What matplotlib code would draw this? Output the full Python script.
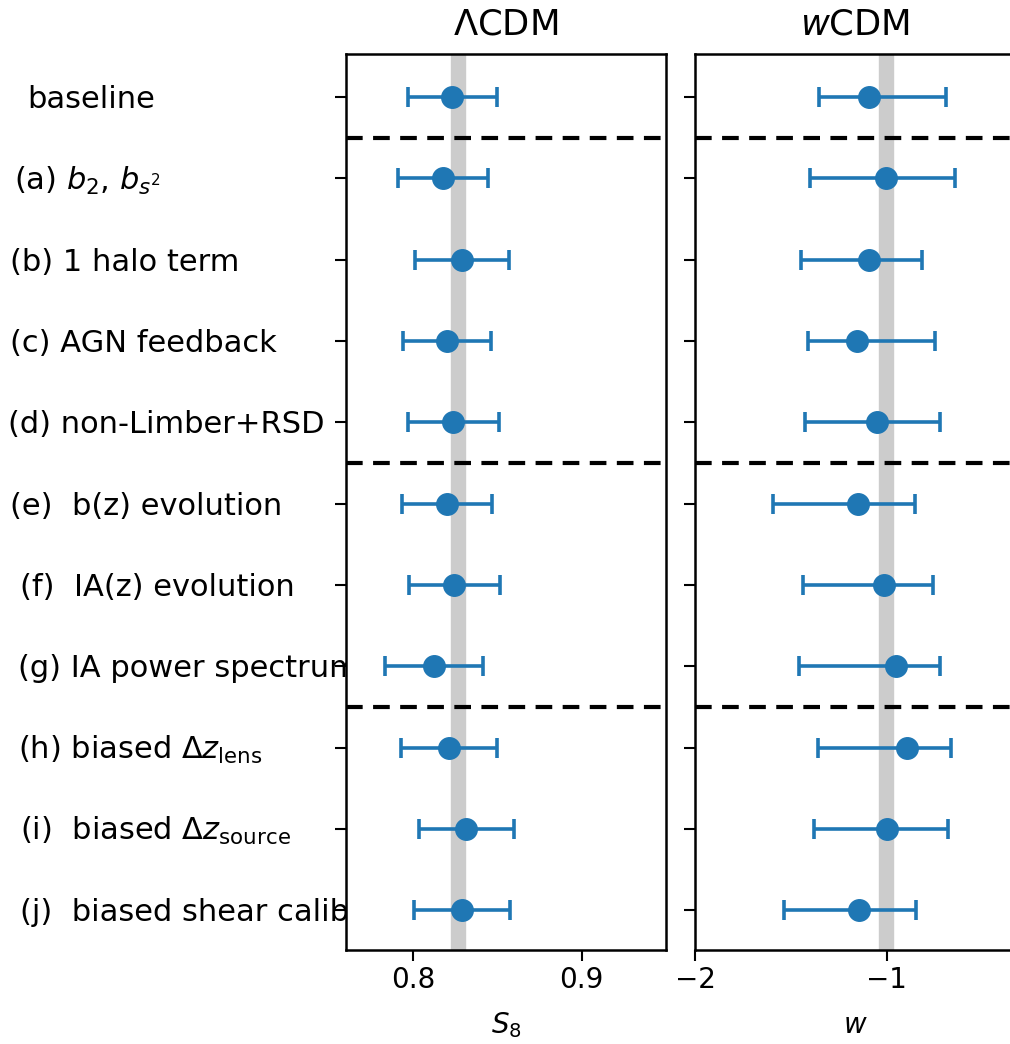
import numpy as np
import matplotlib.pyplot as plt
import matplotlib.transforms as mtransforms

# row labels (top to bottom)
labels = ["baseline",
          r"(a) $b_2$, $b_{s^2}$",
          "(b) 1 halo term",
          "(c) AGN feedback",
          "(d) non-Limber+RSD",
          "(e)  b(z) evolution",
          "(f)  IA(z) evolution",
          "(g) IA power spectrum",
          r"(h) biased $\Delta z_{\rm lens}$",
          r"(i)  biased $\Delta z_{\rm source}$",
          "(j)  biased shear calibration"]
label_x = [27, 14, 10, 10, 8, 10, 20, 18, 18, 20, 20]  # left edge in pixels

# LCDM: S8 constraints
s8 = [0.8232, 0.8176, 0.8289, 0.8200, 0.8236, 0.8198, 0.8242, 0.8123, 0.8212, 0.8313, 0.8289]
s8_err = [0.0264, 0.0267, 0.0280, 0.0260, 0.0270, 0.0267, 0.0270, 0.0290, 0.0285, 0.0282, 0.0285]
s8_fid = 0.8265
s8_band = 0.0042

# wCDM: w constraints (asymmetric)
w = [-1.092, -1.004, -1.092, -1.155, -1.051, -1.150, -1.014, -0.951, -0.894, -0.998, -1.145]
w_lo = [-1.353, -1.400, -1.447, -1.411, -1.426, -1.593, -1.437, -1.457, -1.358, -1.379, -1.536]
w_hi = [-0.691, -0.644, -0.816, -0.748, -0.722, -0.852, -0.758, -0.722, -0.665, -0.680, -0.847]
w_fid = -1.003
w_band = 0.036

sep_rows = [0.5, 4.5, 7.5]

W, H = 1010, 1044
fig = plt.figure(figsize=(W / 100, H / 100), dpi=100)
ax1 = fig.add_axes([346 / W, (H - 950) / H, 320 / W, 896 / H])
ax2 = fig.add_axes([695 / W, (H - 950) / H, 320 / W, 896 / H])

y = np.arange(len(labels))
blue = '#1f77b4'

ax1.axvspan(s8_fid - s8_band, s8_fid + s8_band, color='0.8', zorder=0)
ax1.errorbar(s8, y, xerr=s8_err, fmt='o', color=blue, ms=15.5, elinewidth=2.6,
             capsize=7, capthick=2.6, zorder=3)

w = np.array(w)
xerr = [w - np.array(w_lo), np.array(w_hi) - w]
ax2.axvspan(w_fid - w_band, w_fid + w_band, color='0.8', zorder=0)
ax2.errorbar(w, y, xerr=xerr, fmt='o', color=blue, ms=15.5, elinewidth=2.6,
             capsize=7, capthick=2.6, zorder=3)

for ax in (ax1, ax2):
    for r in sep_rows:
        ax.axhline(r, color='k', ls='--', lw=3, dashes=(4, 2.5), zorder=2)
    ax.set_ylim(10.49, -0.53)
    ax.set_yticks(y)
    ax.set_yticklabels([])
    ax.tick_params(axis='both', labelsize=20, length=8, width=1.5)
    for sp in ax.spines.values():
        sp.set_linewidth(1.8)

ax1.set_xlim(0.760, 0.950)
ax1.set_xticks([0.8, 0.9])
ax2.set_xlim(-2, -0.332)
ax2.set_xticks([-2, -1])

ax1.set_xlabel(r"$S_8$", fontsize=20, labelpad=12)
ax2.set_xlabel(r"$w$", fontsize=20, labelpad=12)
ax1.set_title(r"$\Lambda$CDM", fontsize=25.5, pad=14)
ax2.set_title(r"$w$CDM", fontsize=25.5, pad=14)

# row labels: drawn below the axes so the panel covers any overflow
trans = mtransforms.blended_transform_factory(fig.transFigure, ax1.transData)
for yi, (lab, lx) in enumerate(zip(labels, label_x)):
    fig.text(lx / W, yi + 0.03, lab, transform=trans, ha='left', va='center',
             fontsize=22, zorder=-1)

fig.savefig("out.png", dpi=100)
